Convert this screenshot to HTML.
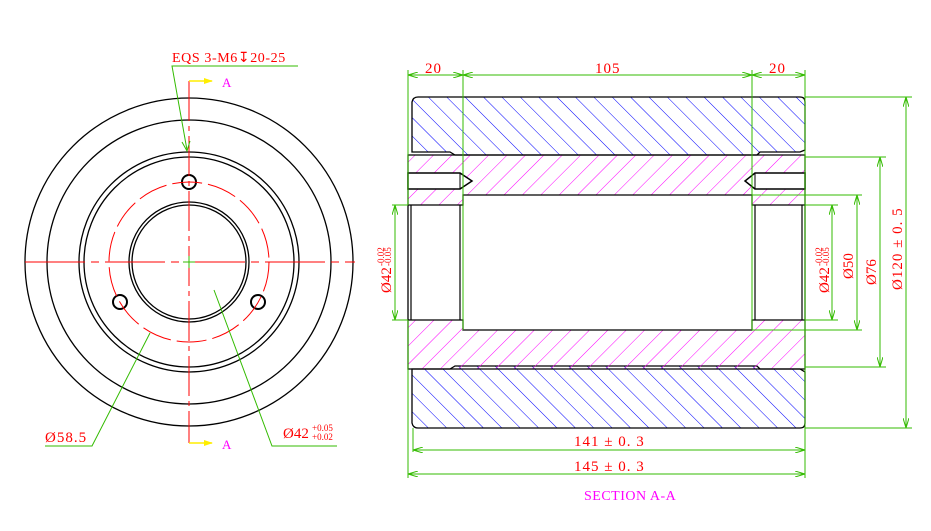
<!DOCTYPE html>
<html><head><meta charset="utf-8"><style>
html,body{margin:0;padding:0;background:#fff;}
svg{display:block;font-family:"Liberation Serif",serif;}
</style></head><body>
<svg width="931" height="531" viewBox="0 0 931 531" xmlns="http://www.w3.org/2000/svg">
<defs>
<pattern id="hb" width="13" height="13" patternUnits="userSpaceOnUse" patternTransform="rotate(-45)">
<line x1="0" y1="0" x2="0" y2="13" stroke="#0000ff" stroke-width="1"/></pattern>
<pattern id="hm" width="13" height="13" patternUnits="userSpaceOnUse" patternTransform="rotate(45)">
<line x1="0" y1="0" x2="0" y2="13" stroke="#ff00ff" stroke-width="1"/></pattern>
<marker id="ag" markerWidth="10" markerHeight="6" refX="10" refY="3" orient="auto-start-reverse" markerUnits="userSpaceOnUse">
<path d="M0,0 L10,3 L0,6" fill="none" stroke="#33bb00" stroke-width="1"/></marker>
</defs>

<g fill="none" stroke="#000" stroke-width="1.3">
<circle cx="189" cy="262" r="164"/>
<circle cx="189" cy="262" r="142"/>
<circle cx="189" cy="262" r="110"/>
<circle cx="189" cy="262" r="105"/>
<circle cx="189" cy="262" r="60"/>
<circle cx="189" cy="262" r="57"/>
<circle cx="189" cy="182" r="7" stroke-width="2"/>
<circle cx="120" cy="302" r="7" stroke-width="2"/>
<circle cx="258" cy="302" r="7" stroke-width="2"/>
</g>
<circle cx="189" cy="262" r="80" fill="none" stroke="#ff0000" stroke-width="1" stroke-dasharray="30,6"/>
<line x1="25" y1="262" x2="355" y2="262" stroke="#ff0000" stroke-width="1" stroke-dasharray="60,6,8,6"/>
<line x1="189" y1="81" x2="189" y2="443" stroke="#ff0000" stroke-width="1" stroke-dasharray="40,5,5,5"/>
<line x1="183" y1="262" x2="195" y2="262" stroke="#33bb00"/>
<line x1="189" y1="256" x2="189" y2="268" stroke="#33bb00"/>
<path d="M189,81 L212,81 M189,443 L212,443" stroke="#ffee00" stroke-width="1.5"/>
<path d="M204,78 L213,81 L204,84Z M204,440 L213,443 L204,446Z" fill="#ffee00"/>
<text x="222" y="87" font-size="13" fill="#ff00ff">A</text>
<text x="222" y="449" font-size="13" fill="#ff00ff">A</text>
<text x="172" y="62" font-size="14" fill="#ff0000" letter-spacing="0.6">EQS 3-M6↧20-25</text>
<path d="M298,66 L172,66 L187,150" fill="none" stroke="#33bb00"/>
<path d="M182,142 L187,151 L190,141" fill="none" stroke="#33bb00"/>
<text x="45" y="442" font-size="15" fill="#ff0000" letter-spacing="1">Ø58.5</text>
<path d="M45,446 L92,446 L150,333" fill="none" stroke="#33bb00"/>
<text x="283" y="438" font-size="15" fill="#ff0000">Ø42</text>
<text x="312" y="431" font-size="9" fill="#ff0000">+0.05</text>
<text x="312" y="440" font-size="9" fill="#ff0000">+0.02</text>
<path d="M337,446 L272,446 L214,290" fill="none" stroke="#33bb00"/>

<path d="M418,97 L800,97 Q805,97 805,102 L805,150 L800,152 L760,152 L757,155 L455,155 L450,152 L412,152 Q412,150 412,148 L412,102 Q413,97 418,97Z" fill="url(#hb)" stroke="#000" stroke-width="1.3"/>
<path d="M418,428 L800,428 Q805,428 805,423 L805,372 L800,369 L760,369 L757,366 L455,366 L450,369 L412,369 L412,423 Q413,428 418,428Z" fill="url(#hb)" stroke="#000" stroke-width="1.3"/>
<path d="M408,155 L805,155 L805,369 L408,369Z M408,205 L408,320 L463,320 L463,330 L752,330 L752,320 L805,320 L805,205 L752,205 L752,195 L463,195 L463,205Z" fill="url(#hm)" fill-rule="evenodd" stroke="#000" stroke-width="1.3"/>
<path d="M408,173 L460,173 L472,181 L460,189 L408,189Z" fill="#fff" stroke="#000" stroke-width="1.5"/>
<line x1="460" y1="173" x2="460" y2="189" stroke="#000"/>
<path d="M805,173 L755,173 L745,181 L755,189 L805,189Z" fill="#fff" stroke="#000" stroke-width="1.5"/>
<line x1="755" y1="173" x2="755" y2="189" stroke="#000"/>
<g stroke="#000" stroke-width="1.2">
<line x1="411" y1="205" x2="411" y2="320"/><line x1="460" y1="205" x2="460" y2="320"/>
<line x1="802" y1="205" x2="802" y2="320"/><line x1="755" y1="205" x2="755" y2="320"/>
</g>
<g stroke="#33bb00" stroke-width="1" fill="none">
<line x1="408" y1="70" x2="408" y2="205"/>
<line x1="463" y1="70" x2="463" y2="330"/>
<line x1="752" y1="70" x2="752" y2="330"/>
<line x1="805" y1="70" x2="805" y2="478"/>
<line x1="408" y1="320" x2="408" y2="478"/>
<line x1="413" y1="428" x2="413" y2="452"/>
<line x1="408" y1="75" x2="463" y2="75" marker-start="url(#ag)" marker-end="url(#ag)"/>
<line x1="463" y1="75" x2="752" y2="75" marker-start="url(#ag)" marker-end="url(#ag)"/>
<line x1="752" y1="75" x2="805" y2="75" marker-start="url(#ag)" marker-end="url(#ag)"/>
<line x1="413" y1="450" x2="805" y2="450" marker-start="url(#ag)" marker-end="url(#ag)"/>
<line x1="408" y1="474" x2="805" y2="474" marker-start="url(#ag)" marker-end="url(#ag)"/>
<line x1="805" y1="97" x2="912" y2="97"/><line x1="805" y1="428" x2="912" y2="428"/>
<line x1="906" y1="97" x2="906" y2="428" marker-start="url(#ag)" marker-end="url(#ag)"/>
<line x1="805" y1="157" x2="886" y2="157"/><line x1="805" y1="367" x2="886" y2="367"/>
<line x1="880" y1="157" x2="880" y2="367" marker-start="url(#ag)" marker-end="url(#ag)"/>
<line x1="752" y1="195" x2="862" y2="195"/><line x1="752" y1="330" x2="862" y2="330"/>
<line x1="857" y1="195" x2="857" y2="330" marker-start="url(#ag)" marker-end="url(#ag)"/>
<line x1="805" y1="205" x2="838" y2="205"/><line x1="805" y1="320" x2="838" y2="320"/>
<line x1="832" y1="205" x2="832" y2="320" marker-start="url(#ag)" marker-end="url(#ag)"/>
<line x1="392" y1="205" x2="408" y2="205"/><line x1="392" y1="320" x2="408" y2="320"/>
<line x1="395" y1="205" x2="395" y2="320" marker-start="url(#ag)" marker-end="url(#ag)"/>
</g>
<g fill="#ff0000" font-size="15">
<text x="425" y="73" letter-spacing="1">20</text>
<text x="595" y="73" letter-spacing="1">105</text>
<text x="769" y="73" letter-spacing="1">20</text>
<text x="574" y="446" letter-spacing="1">141 ± 0. 3</text>
<text x="574" y="471" letter-spacing="1">145 ± 0. 3</text>
<text transform="translate(902,290) rotate(-90)" letter-spacing="1">Ø120 ± 0. 5</text>
<text transform="translate(876,285) rotate(-90)">Ø76</text>
<text transform="translate(853,279) rotate(-90)">Ø50</text>
<text transform="translate(829,293) rotate(-90)">Ø42</text>
<text transform="translate(822,266) rotate(-90)" font-size="9">-0.02</text>
<text transform="translate(829,266) rotate(-90)" font-size="9">-0.05</text>
<text transform="translate(391,293) rotate(-90)">Ø42</text>
<text transform="translate(384,266) rotate(-90)" font-size="9">-0.02</text>
<text transform="translate(391,266) rotate(-90)" font-size="9">-0.05</text>
</g>
<text x="584" y="500" font-size="14" fill="#ff00ff" letter-spacing="0.5">SECTION A-A</text>
</svg>
</body></html>
